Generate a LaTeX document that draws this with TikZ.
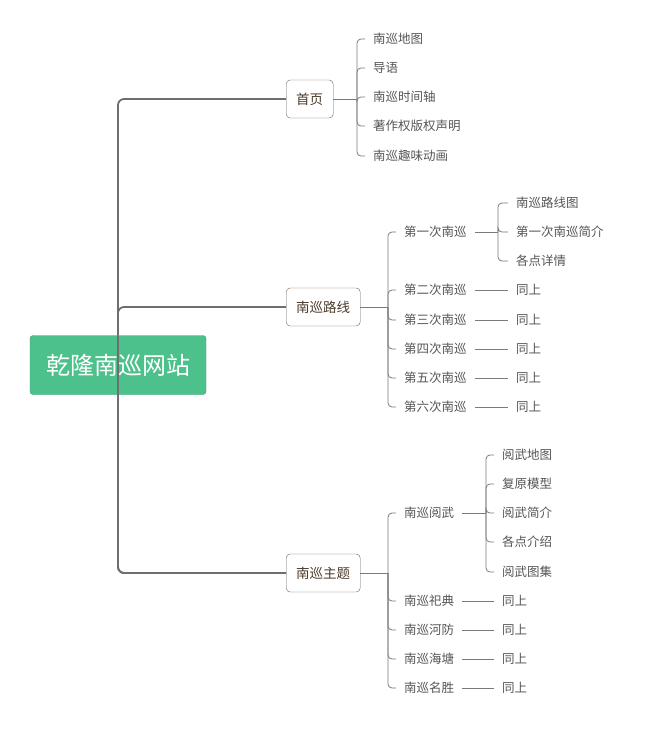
\documentclass[tikz,border=0pt]{standalone}
\usepackage{fontspec}
\newfontfamily\cjk{Noto Sans CJK SC}
\definecolor{rootgreen}{HTML}{4DC18B}
\definecolor{linegray}{HTML}{7A7A7A}
\definecolor{textgray}{HTML}{555555}
\definecolor{topicbrown}{HTML}{4A3A2A}
\tikzset{
  rootbox/.style={fill=rootgreen,draw=rootgreen!80!black,rounded corners=3pt,text=white,font=\cjk\fontsize{24}{28}\selectfont,minimum width=176pt,minimum height=59pt},
  topicbox/.style={draw=topicbrown!80,rounded corners=4pt,text=topicbrown,font=\cjk\fontsize{13.5}{16}\selectfont,minimum height=38pt,inner xsep=10pt},
  leaf/.style={anchor=west,text=textgray,font=\cjk\fontsize{12.5}{15}\selectfont,inner xsep=8pt,inner ysep=2pt},
  branch/.style={draw=linegray,line width=0.8pt,rounded corners=4pt},
  trunk/.style={draw=linegray!90!black,line width=1.8pt,rounded corners=6pt}
}
\begin{document}
\begin{tikzpicture}[x=1pt,y=-1pt]
\useasboundingbox (0,0) rectangle (646,731);
% main topic
\node[rootbox] (root) at (118,365) {乾隆南巡网站};
\node[topicbox,anchor=west] (home) at (286,99) {首页};
\node[topicbox,anchor=west] (route) at (286,307) {南巡路线};
\node[topicbox,anchor=west] (theme) at (286,573) {南巡主题};
\foreach \t in {home,route,theme}
  \draw[trunk] (root.north) |- (\t.west);
\draw[trunk] (root.south) |- (theme.west);
% home
\foreach \i/\y/\s in {1/39/南巡地图,2/68/导语,3/97/南巡时间轴,4/126/著作权版权声明,5/156/南巡趣味动画}{
  \node[leaf] (h\i) at (365,\y) {\s};
  \draw[branch] (357,99) |- (h\i.west);
}
\draw[branch] (home.east) -- (357,99);
% route
\foreach \i/\y/\s in {1/232/第一次南巡,2/290/第二次南巡,3/320/第三次南巡,4/349/第四次南巡,5/378/第五次南巡,6/407/第六次南巡}{
  \node[leaf] (r\i) at (396,\y) {\s};
  \draw[branch] (388,307) |- (r\i.west);
}
\draw[branch] (route.east) -- (388,307);
\foreach \i/\y/\s in {1/203/南巡路线图,2/232/第一次南巡简介,3/261/各点详情}{
  \node[leaf] (ra\i) at (508,\y) {\s};
  \draw[branch] (498,232) |- (ra\i.west);
}
\draw[branch] (r1.east) -- (498,232);
\foreach \i in {2,...,6}{
  \node[leaf] (rs\i) at (r\i.west -| 508,0) {同上};
  \draw[branch] (r\i.east) -- (rs\i.west);
}
% theme
\foreach \i/\y/\s in {1/513/南巡阅武,2/601/南巡祀典,3/630/南巡河防,4/659/南巡海塘,5/688/南巡名胜}{
  \node[leaf] (t\i) at (396,\y) {\s};
  \draw[branch] (388,573) |- (t\i.west);
}
\draw[branch] (theme.east) -- (388,573);
\foreach \i/\y/\s in {1/455/阅武地图,2/484/复原模型,3/513/阅武简介,4/542/各点介绍,5/572/阅武图集}{
  \node[leaf] (ta\i) at (494,\y) {\s};
  \draw[branch] (486,513) |- (ta\i.west);
}
\draw[branch] (t1.east) -- (486,513);
\foreach \i in {2,...,5}{
  \node[leaf] (ts\i) at (t\i.west -| 494,0) {同上};
  \draw[branch] (t\i.east) -- (ts\i.west);
}
\end{tikzpicture}
\end{document}
